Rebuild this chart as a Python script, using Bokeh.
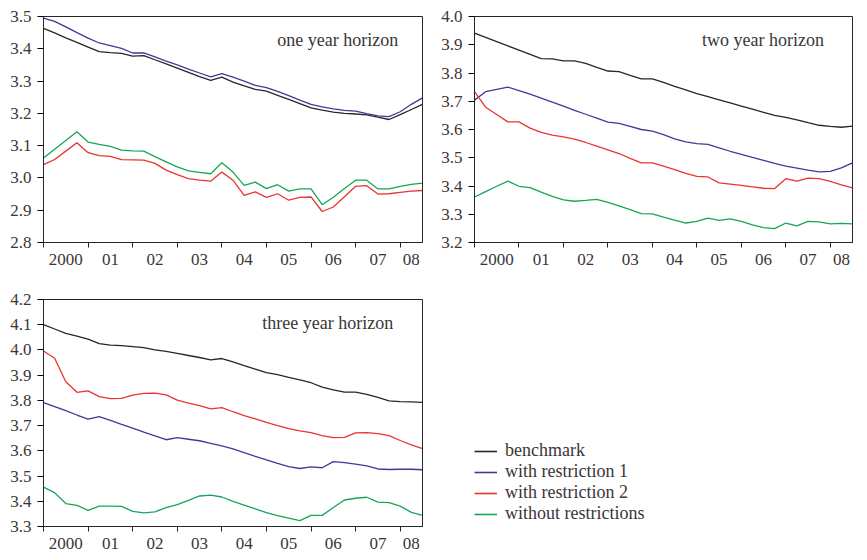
from bokeh.plotting import figure
from bokeh.models import Range1d, FixedTicker, PrintfTickFormatter, Label, Legend, LegendItem
from bokeh.layouts import row, column
from bokeh.embed import file_html
from bokeh.resources import INLINE

# ---------------- data (quarterly, 2000Q1 .. 2008Q3) ----------------
quarters = [f"{y}Q{q}" for y in range(2000, 2009) for q in range(1, 5)][:35]
year_labels = ["2000", "01", "02", "03", "04", "05", "06", "07", "08"]

series_names = ["benchmark", "with restriction 1", "with restriction 2", "without restrictions"]

# one year horizon
bench_1 = [3.463, 3.449, 3.434, 3.420, 3.405, 3.391, 3.388, 3.386, 3.377, 3.379, 3.366, 3.353,
           3.340, 3.327, 3.314, 3.302, 3.312, 3.297, 3.285, 3.274, 3.269, 3.256, 3.243, 3.230,
           3.217, 3.210, 3.204, 3.200, 3.198, 3.195, 3.188, 3.181, 3.196, 3.212, 3.228]
restr1_1 = [3.495, 3.485, 3.468, 3.450, 3.433, 3.418, 3.410, 3.401, 3.387, 3.387, 3.375, 3.362,
            3.350, 3.337, 3.325, 3.313, 3.323, 3.312, 3.300, 3.287, 3.280, 3.268, 3.255, 3.241,
            3.228, 3.220, 3.214, 3.209, 3.207, 3.199, 3.192, 3.190, 3.205, 3.228, 3.248]
restr2_1 = [3.041, 3.057, 3.083, 3.109, 3.078, 3.069, 3.067, 3.057, 3.056, 3.055, 3.045, 3.024,
            3.010, 2.998, 2.993, 2.990, 3.018, 2.993, 2.946, 2.957, 2.940, 2.951, 2.931, 2.940,
            2.941, 2.896, 2.910, 2.942, 2.974, 2.976, 2.950, 2.951, 2.955, 2.959, 2.961]
norestr_1 = [3.062, 3.089, 3.116, 3.143, 3.111, 3.104, 3.098, 3.086, 3.084, 3.083, 3.066, 3.050,
             3.034, 3.022, 3.017, 3.013, 3.047, 3.018, 2.977, 2.987, 2.967, 2.979, 2.959, 2.966,
             2.966, 2.917, 2.940, 2.967, 2.993, 2.993, 2.966, 2.966, 2.974, 2.980, 2.984]

# two year horizon
bench_2 = [3.941, 3.926, 3.911, 3.896, 3.881, 3.866, 3.851, 3.850, 3.843, 3.843, 3.834, 3.820,
           3.807, 3.805, 3.792, 3.779, 3.779, 3.767, 3.753, 3.740, 3.727, 3.716, 3.705, 3.694,
           3.683, 3.672, 3.661, 3.650, 3.643, 3.634, 3.624, 3.615, 3.611, 3.608, 3.612]
restr1_2 = [3.704, 3.734, 3.742, 3.750, 3.738, 3.725, 3.711, 3.697, 3.683, 3.668, 3.654, 3.640,
            3.626, 3.622, 3.611, 3.600, 3.594, 3.582, 3.567, 3.556, 3.550, 3.547, 3.535, 3.523,
            3.512, 3.501, 3.491, 3.480, 3.470, 3.463, 3.456, 3.450, 3.452, 3.464, 3.482]
restr2_2 = [3.734, 3.679, 3.653, 3.627, 3.627, 3.605, 3.590, 3.580, 3.574, 3.566, 3.554, 3.541,
            3.528, 3.515, 3.498, 3.482, 3.482, 3.470, 3.458, 3.445, 3.434, 3.432, 3.411, 3.407,
            3.402, 3.397, 3.392, 3.391, 3.426, 3.417, 3.428, 3.426, 3.416, 3.404, 3.393]
norestr_2 = [3.361, 3.380, 3.399, 3.417, 3.399, 3.394, 3.378, 3.363, 3.351, 3.346, 3.349, 3.353,
             3.342, 3.330, 3.316, 3.302, 3.301, 3.290, 3.279, 3.269, 3.275, 3.286, 3.278, 3.284,
             3.275, 3.262, 3.253, 3.249, 3.269, 3.259, 3.275, 3.273, 3.266, 3.268, 3.266]

# three year horizon
bench_3 = [4.100, 4.083, 4.066, 4.055, 4.043, 4.025, 4.019, 4.017, 4.013, 4.009, 4.000, 3.994,
           3.986, 3.978, 3.970, 3.961, 3.966, 3.953, 3.938, 3.924, 3.910, 3.902, 3.891, 3.881,
           3.870, 3.853, 3.842, 3.833, 3.833, 3.824, 3.812, 3.798, 3.795, 3.794, 3.792]
restr1_3 = [3.791, 3.775, 3.759, 3.742, 3.726, 3.736, 3.721, 3.705, 3.690, 3.674, 3.659, 3.644,
            3.652, 3.646, 3.640, 3.630, 3.620, 3.608, 3.593, 3.578, 3.564, 3.550, 3.537, 3.530,
            3.536, 3.533, 3.557, 3.553, 3.547, 3.540, 3.528, 3.526, 3.527, 3.527, 3.525]
restr2_3 = [3.996, 3.967, 3.874, 3.832, 3.838, 3.815, 3.807, 3.808, 3.821, 3.828, 3.829, 3.822,
            3.801, 3.789, 3.779, 3.766, 3.771, 3.755, 3.740, 3.727, 3.713, 3.700, 3.688, 3.679,
            3.672, 3.660, 3.652, 3.653, 3.671, 3.672, 3.668, 3.660, 3.641, 3.624, 3.609]
norestr_3 = [3.456, 3.434, 3.391, 3.384, 3.364, 3.381, 3.381, 3.380, 3.360, 3.354, 3.358, 3.375,
             3.387, 3.404, 3.421, 3.424, 3.417, 3.400, 3.385, 3.370, 3.355, 3.343, 3.333, 3.323,
             3.344, 3.344, 3.375, 3.405, 3.412, 3.416, 3.397, 3.395, 3.381, 3.356, 3.344]

yticks_1 = [2.8, 2.9, 3.0, 3.1, 3.2, 3.3, 3.4, 3.5]
yticks_2 = [3.2, 3.3, 3.4, 3.5, 3.6, 3.7, 3.8, 3.9, 4.0]
yticks_3 = [3.3, 3.4, 3.5, 3.6, 3.7, 3.8, 3.9, 4.0, 4.1, 4.2]

# ---------------- styling ----------------
COLORS = ["#2a2627", "#3b3c98", "#e9342f", "#17a558"]
TEXT = "#3a3637"
FONT = "Liberation Serif"
LW = 1.3

n = len(quarters)
xs = list(range(n))
year_starts = [i for i, q in enumerate(quarters) if q.endswith("Q1")]
label_pos = [(s + min(s + 4, n - 1)) / 2 for s in year_starts]


def make_panel(series, yticks, title, tx, ty, width, height, bl, bt, br, bb):
    p = figure(width=width, height=height, x_range=Range1d(0, n - 1),
               y_range=Range1d(yticks[0], yticks[-1]), output_backend="svg",
               toolbar_location=None, min_border_left=bl, min_border_top=bt,
               min_border_right=br, min_border_bottom=bb)
    for ys, c in zip(series, COLORS):
        p.line(xs, ys, line_color=c, line_width=LW)
    p.xgrid.visible = False
    p.ygrid.visible = False
    p.outline_line_color = "#2a2627"
    p.outline_line_width = 1
    p.background_fill_color = "white"
    p.border_fill_color = "white"

    xa = p.xaxis[0]
    xa.ticker = FixedTicker(ticks=label_pos, minor_ticks=year_starts)
    xa.major_label_overrides = {lp: lab for lp, lab in zip(label_pos, year_labels)}
    xa.major_tick_out = 5
    xa.major_tick_in = 0
    xa.major_tick_line_color = None
    xa.minor_tick_out = 5
    xa.minor_tick_in = 0
    xa.minor_tick_line_color = "#2a2627"
    xa.major_label_standoff = 6

    ya = p.yaxis[0]
    ya.ticker = FixedTicker(ticks=yticks, minor_ticks=[])
    ya.formatter = PrintfTickFormatter(format="%.1f")
    ya.major_tick_out = 6
    ya.major_tick_in = 0
    ya.major_label_standoff = 6

    for ax in (xa, ya):
        ax.axis_line_color = "#2a2627"
        ax.major_label_text_font = FONT
        ax.major_label_text_font_size = "17px"
        ax.major_label_text_color = TEXT
        ax.major_tick_line_width = 1
        ax.minor_tick_line_width = 1

    p.add_layout(Label(x=tx, y=ty, text=title, text_font=FONT, text_font_size="18px",
                       text_color=TEXT, text_align="center", text_baseline="alphabetic"))
    return p


p1 = make_panel([bench_1, restr1_1, restr2_1, norestr_1], yticks_1, "one year horizon",
                26.4, 3.428, 434, 282, 43, 16, 12, 40)
p2 = make_panel([bench_2, restr1_2, restr2_2, norestr_2], yticks_2, "two year horizon",
                25.95, 3.918, 424, 282, 40, 16, 6, 40)
p3 = make_panel([bench_3, restr1_3, restr2_3, norestr_3], yticks_3, "three year horizon",
                25.5, 4.1075, 434, 273, 43, 17, 12, 29)

# legend panel (same borders as p3 so the row stays aligned; series drawn off-range)
p4 = figure(width=424, height=273, x_range=Range1d(-100, -90), y_range=Range1d(0, 1),
            x_axis_type=None, y_axis_type=None, output_backend="svg", toolbar_location=None,
            min_border_left=40, min_border_top=17, min_border_right=6, min_border_bottom=29)
p4.outline_line_color = None
p4.xgrid.visible = False
p4.ygrid.visible = False
items = []
for name, c, ys in zip(series_names, COLORS, [bench_1, restr1_1, restr2_1, norestr_1]):
    r = p4.line(xs, ys, line_color=c, line_width=1.6)
    items.append(LegendItem(label=name, renderers=[r]))
leg = Legend(items=items, location=(0, 2), margin=0, padding=0, spacing=0,
             glyph_width=23, glyph_height=20, label_height=20, label_standoff=8,
             label_text_font=FONT, label_text_font_size="18px", label_text_color=TEXT,
             border_line_color=None, background_fill_alpha=0)
p4.add_layout(leg)

layout = column(row(p1, p2), row(p3, p4))

open("out.html", "w").write(file_html(layout, INLINE))
